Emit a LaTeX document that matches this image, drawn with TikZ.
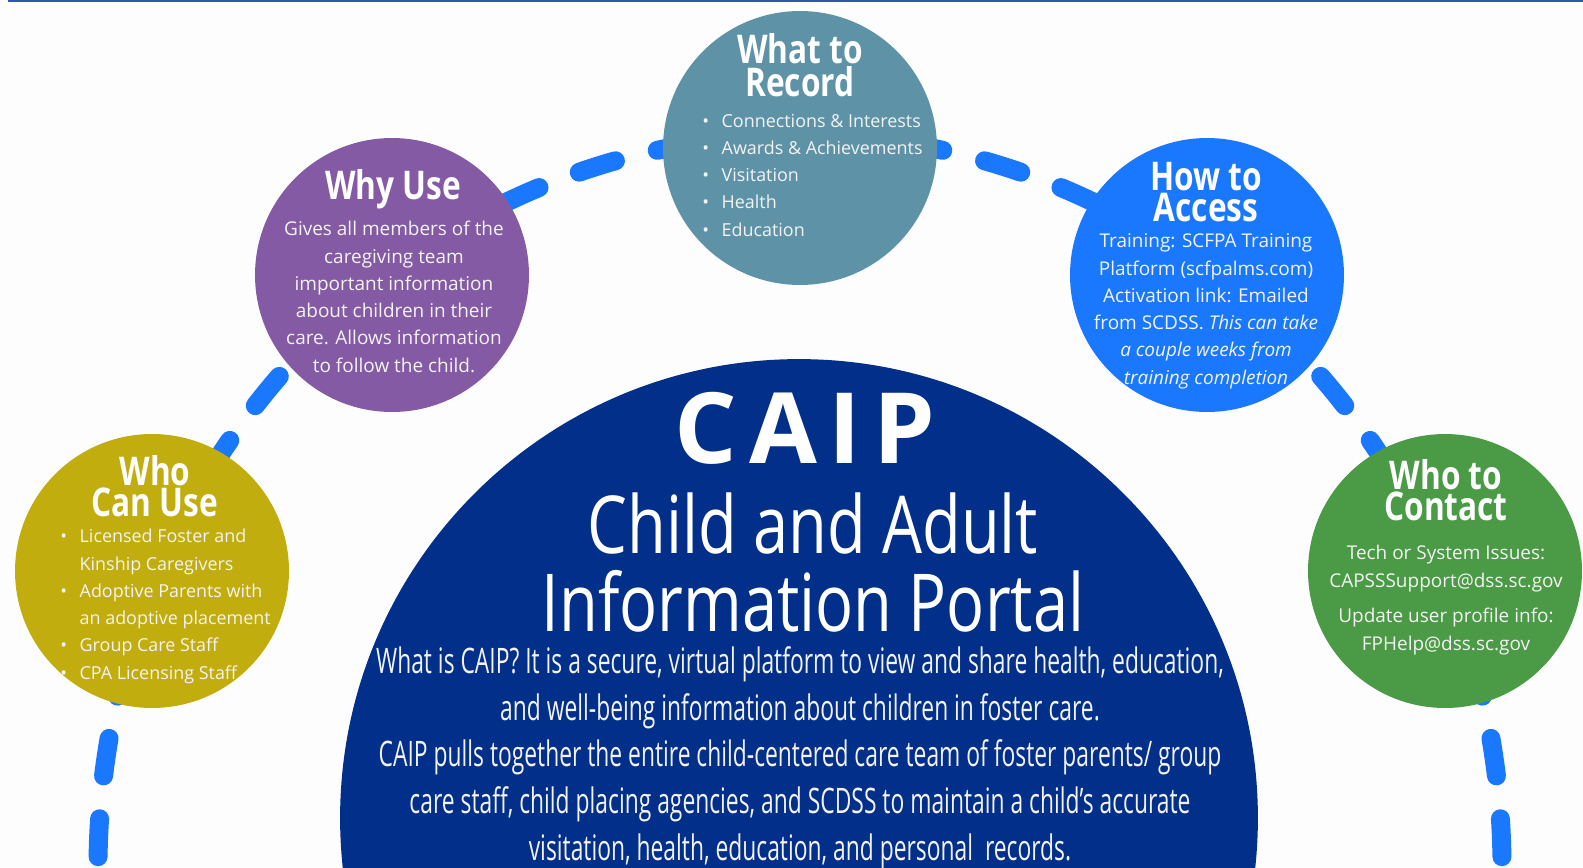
\documentclass[tikz,border=0pt]{standalone}
\usepackage{fontspec}
\setmainfont{Open Sans}
\newfontfamily\headfont[FakeStretch=0.8]{Open Sans}
\newfontfamily\slimfont[FakeStretch=0.65]{Open Sans}
\newfontfamily\thinfont[FakeStretch=0.79]{Open Sans}
\usetikzlibrary{positioning}
\definecolor{paper}{HTML}{FDFDFD}
\definecolor{inkwhite}{HTML}{F3F3F3}
\definecolor{rulecol}{HTML}{2F57A6}
\definecolor{dashblue}{HTML}{1A78FF}
\definecolor{navy}{HTML}{012F8A}
\definecolor{mustard}{HTML}{C2AD0E}
\definecolor{plum}{HTML}{835AA3}
\definecolor{steel}{HTML}{5E93A7}
\definecolor{leaf}{HTML}{4A9A46}
\tikzset{
  % coloured discs
  bubble/.style={circle,fill=#1,minimum size=5.48cm,inner sep=0pt},
  whoB/.style={bubble=mustard},
  whyB/.style={bubble=plum},
  whatB/.style={bubble=steel},
  howB/.style={bubble=dashblue},
  contactB/.style={bubble=leaf},
  % text inside the discs (anchor base = last line)
  heading/.style={text=white,inner sep=0pt,align=center,anchor=base,
    font=\headfont\bfseries\fontsize{22.5}{17.2}\selectfont},
  blurb/.style={text=inkwhite,inner sep=0pt,anchor=base,
    font=\fontsize{10.8}{15.5}\selectfont},
  listing/.style={blurb,align=left,anchor=base west,
    font=\fontsize{10.2}{15.5}\selectfont},
  % thick dashed trail behind the discs
  trail/.style={dashblue,line width=10.8pt,line cap=round,
    dash pattern=on 21.6pt off 24.5pt,dash phase=31.9pt},
}
\newcommand{\itm}{\makebox[11pt][l]{\textbullet}}
\newcommand{\gap}{\hspace*{11pt}}

\begin{document}
\begin{tikzpicture}[x=0.02cm,y=-0.02cm]
  \useasboundingbox (0,0) rectangle (1583,867);
  \fill[paper] (0,0) rectangle (1583,867);
  \draw[rulecol,line width=1.2pt] (8,1) -- (1583,1);

  % trail
  \coordinate (crest) at (800,135);
  \draw[trail] (crest) arc[start angle=-90,end angle=-182,x radius=702,y radius=733];
  \draw[trail] (crest) arc[start angle=-90,end angle=2,x radius=702,y radius=733];

  % discs
  \node[bubble=navy,minimum size=18.36cm] (core) at (799,818) {};
  \node[whoB] (who) at (152,571) {};
  \node[whyB] (why) at (392,275) {};
  \node[whatB] (what) at (800,148) {};
  \node[howB] (how) at (1207,275) {};
  \node[contactB] (contact) at (1445,571) {};

  % who can use
  \node[heading] (whoT) at (155,516) {Who\\Can Use};
  \node[listing] (whoL) at (60,679)
    {\itm Licensed Foster and\\\gap Kinship Caregivers\\\itm Adoptive Parents with\\
     \gap an adoptive placement\\\itm Group Care Staff\\\itm CPA Licensing Staff};

  % why use
  \node[heading] (whyT) at (393,199) {Why Use};
  \node[blurb,align=center] (whyL) at (394,372)
    {Gives all members of the\\caregiving team\\important information\\
     about children in their\\care. Allows information\\to follow the child.};

  % what to record
  \node[heading] (whatT) at (800,96) {What to\\Record};
  \node[listing] (whatL) at (702,236)
    {\itm Connections \& Interests\\\itm Awards \& Achievements\\\itm Visitation\\
     \itm Health\\\itm Education};

  % how to access
  \node[heading] (howT) at (1206,221) {How to\\Access};
  \node[blurb,align=center] (howL) at (1206,384)
    {Training: SCFPA Training\\Platform (scfpalms.com)\\Activation link: Emailed\\
     from SCDSS. \textit{This can take}\\\textit{a couple weeks from}\\\textit{training completion}};

  % who to contact
  \node[heading] (contactT) at (1446,520) {Who to\\Contact};
  \node[blurb,align=center,font=\fontsize{10.8}{15.9}\selectfont] (contactL) at (1446,650)
    {Tech or System Issues:\\CAPSSSupport@dss.sc.gov\\[4pt]
     Update user profile info:\\FPHelp@dss.sc.gov};

  % centre
  \node[text=white,inner sep=0pt,anchor=base,
    font=\bfseries\fontsize{56}{56}\selectfont\addfontfeature{LetterSpace=12}] (caip) at (805,463) {CAIP};
  \node[text=white,inner sep=0pt,anchor=base,align=center,
    font=\thinfont\fontsize{45.5}{44.4}\selectfont] (portal) at (813,631)
    {Child and Adult\\Information Portal};
  \node[text=inkwhite,inner sep=0pt,anchor=base,align=center,
    font=\slimfont\fontsize{20}{26.5}\selectfont] (about) at (800,860)
    {What is CAIP? It is a secure, virtual platform to view and share health, education,\\
     and well-being information about children in foster care.\\
     CAIP pulls together the entire child-centered care team of foster parents/ group\\
     care staff, child placing agencies, and SCDSS to maintain a child’s accurate\\
     visitation, health, education, and personal\ \ records.};
\end{tikzpicture}
\end{document}
